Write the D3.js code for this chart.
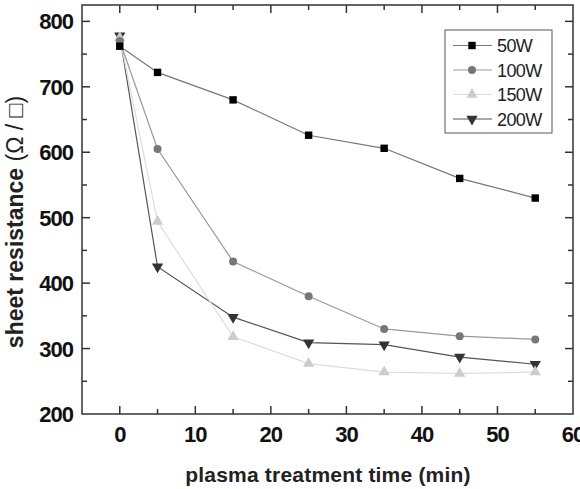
<!DOCTYPE html>
<html lang="en">
<head>
<script src="https://cdn.jsdelivr.net/npm/d3@7"></script>
<style>
  body { margin: 0; background: #fff; }
  text { font-family: "Liberation Sans", Arial, sans-serif; }
</style>
</head>
<body>
<div id="chart"></div>
<script>
// data
const times = [0, 5, 15, 25, 35, 45, 55]
const w50  = [762, 722, 680, 626, 606, 560, 530]
const w100 = [770, 605, 433, 380, 330, 319, 314]
const w150 = [775, 494, 318, 277, 264, 262, 264]
const w200 = [778, 425, 348, 309, 306, 287, 276]
const seriesNames = ['50W', '100W', '150W', '200W']
const xTicks = [0, 10, 20, 30, 40, 50, 60]
const yTicks = [200, 300, 400, 500, 600, 700, 800]

const W = 580, H = 489
const pLeft = 82, pRight = 573, pTop = 5, pBottom = 414

const svg = d3.select('#chart').append('svg')
    .attr('width', W).attr('height', H)

const x = d3.scaleLinear().domain([-5, 60]).range([pLeft, pRight])
const y = d3.scaleLinear().domain([200, 825]).range([pBottom, pTop])

// frame
svg.append('rect')
    .attr('x', pLeft).attr('y', pTop)
    .attr('width', pRight - pLeft).attr('height', pBottom - pTop)
    .attr('fill', 'none').attr('stroke', '#333').attr('stroke-width', 1.5)

// ticks, all pointing inward
const xMinor = d3.range(5, 60, 10)
const yMinor = d3.range(250, 825, 100)
const tickG = svg.append('g').attr('stroke', '#333').attr('stroke-width', 1.5)
function tickLines(vals, len, axis) {
  vals.forEach(function(v) {
    if (axis === 'x') {
      tickG.append('line').attr('x1', x(v)).attr('x2', x(v)).attr('y1', pBottom).attr('y2', pBottom - len)
      tickG.append('line').attr('x1', x(v)).attr('x2', x(v)).attr('y1', pTop).attr('y2', pTop + len)
    } else {
      tickG.append('line').attr('y1', y(v)).attr('y2', y(v)).attr('x1', pLeft).attr('x2', pLeft + len)
      tickG.append('line').attr('y1', y(v)).attr('y2', y(v)).attr('x1', pRight).attr('x2', pRight - len)
    }
  })
}
tickLines(xTicks.filter(d => d < 60), 8, 'x')
tickLines(xMinor, 5, 'x')
tickLines(yTicks.filter(d => d > 200), 8, 'y')
tickLines(yMinor, 5, 'y')

// tick labels
svg.selectAll('text.xt').data(xTicks).enter().append('text')
    .attr('class', 'xt')
    .attr('x', d => x(d)).attr('y', 442)
    .attr('text-anchor', 'middle')
    .attr('font-size', 22).attr('font-weight', 'bold')
    .attr('letter-spacing', -1)
    .attr('fill', '#111')
    .text(d => d)

svg.selectAll('text.yt').data(yTicks).enter().append('text')
    .attr('class', 'yt')
    .attr('x', 73).attr('y', d => y(d) + 8)
    .attr('text-anchor', 'end')
    .attr('font-size', 22).attr('font-weight', 'bold')
    .attr('letter-spacing', -1)
    .attr('fill', '#111')
    .text(d => d)

// axis titles
svg.append('text')
    .attr('x', 328).attr('y', 482)
    .attr('text-anchor', 'middle')
    .attr('font-size', 21).attr('font-weight', 'bold')
    .attr('letter-spacing', 0.2)
    .attr('fill', '#222')
    .text('plasma treatment time (min)')

const yTitle = svg.append('text')
    .attr('transform', 'translate(23,222) rotate(-90)')
    .attr('text-anchor', 'middle')
    .attr('font-size', 23)
    .attr('fill', '#222')
yTitle.append('tspan').attr('font-weight', 'bold').text('sheet resistance ')
yTitle.append('tspan').text('(\u03A9 / \u25A1)')

// series
const series = [
  { name: seriesNames[0], values: w50,  line: '#777', fill: '#000', sym: d3.symbolSquare },
  { name: seriesNames[1], values: w100, line: '#999', fill: '#777', sym: d3.symbolCircle },
  { name: seriesNames[2], values: w150, line: '#ddd', fill: '#ccc', sym: d3.symbolTriangle },
  { name: seriesNames[3], values: w200, line: '#555', fill: '#333', sym: 'down' }
]

const line = d3.line()
    .x((d, i) => x(times[i]))
    .y(d => y(d))

function marker(g, s, cx, cy) {
  if (s.sym === 'down') {
    g.append('path')
        .attr('d', d3.symbol().type(d3.symbolTriangle).size(55)())
        .attr('transform', 'translate(' + cx + ',' + cy + ') rotate(180)')
        .attr('fill', s.fill)
  } else {
    g.append('path')
        .attr('d', d3.symbol().type(s.sym).size(s.sym === d3.symbolCircle ? 50 : 55)())
        .attr('transform', 'translate(' + cx + ',' + cy + ')')
        .attr('fill', s.fill)
  }
}

series.slice().reverse().forEach(function(s) {
  const g = svg.append('g')
  g.append('path')
      .datum(s.values)
      .attr('d', line)
      .attr('fill', 'none')
      .attr('stroke', s.line)
      .attr('stroke-width', 1.2)
  s.values.forEach(function(v, i) { marker(g, s, x(times[i]), y(v)) })
})

// legend
const lg = svg.append('g')
lg.append('rect')
    .attr('x', 445).attr('y', 30).attr('width', 107).attr('height', 103)
    .attr('fill', '#fff').attr('stroke', '#555').attr('stroke-width', 1)
series.forEach(function(s, i) {
  const ly = 45.5 + i * 24.5
  lg.append('line')
      .attr('x1', 453).attr('x2', 492).attr('y1', ly).attr('y2', ly)
      .attr('stroke', s.line).attr('stroke-width', 1.2)
  marker(lg, s, 472, ly)
  lg.append('text')
      .attr('x', 497).attr('y', ly + 6.5)
      .attr('font-size', 18)
      .attr('letter-spacing', -0.6)
      .attr('fill', '#222')
      .text(s.name)
})
</script>
</body>
</html>
